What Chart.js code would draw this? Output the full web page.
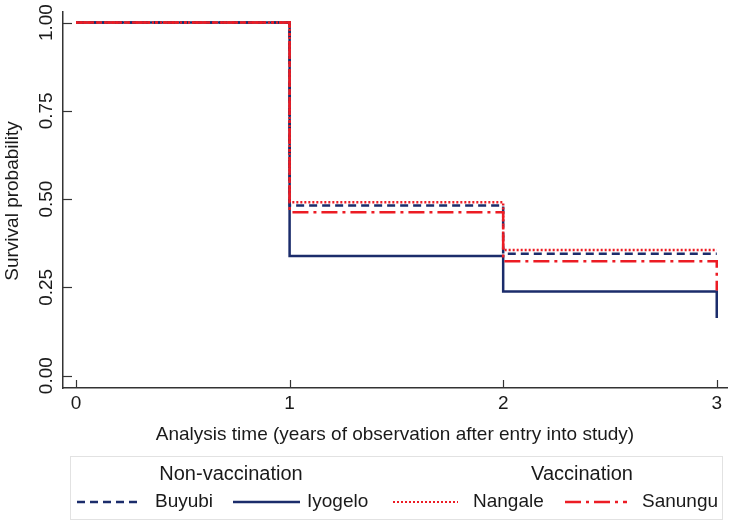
<!DOCTYPE html>
<html>
<head>
<meta charset="utf-8">
<script src="https://cdn.jsdelivr.net/npm/chart.js@4.4.1/dist/chart.umd.min.js"></script>
<style>
  html, body { margin: 0; padding: 0; background: #fff; }
  canvas { display: block; }
</style>
</head>
<body>
<canvas id="kmChart" width="733" height="524"></canvas>
<script>
// Kaplan-Meier survival estimates
const times = [0, 1, 2, 3];
const buyubi = [1, 0.482, 0.345, 0.345];
const iyogelo = [1, 0.339, 0.238, 0.163];
const nangale = [1, 0.491, 0.356, 0.356];
const sanungu = [1, 0.463, 0.324, 0.241];

const seriesNames = ["Buyubi", "Iyogelo", "Nangale", "Sanungu"];
const groupNames = ["Non-vaccination", "Vaccination"];
const xTicks = [0, 1, 2, 3];
const yTicks = [0, 0.25, 0.5, 0.75, 1];
const xTitle = "Analysis time (years of observation after entry into study)";
const yTitle = "Survival probability";

const NAVY = '#1b2c6b';
const RED = '#ec1c24';
const TEXT = '#1a1a1a';
const FONT = '"Liberation Sans", Arial, sans-serif';

const styles = [
    { color: NAVY, dash: [8, 5], width: 2.5 },
    { color: NAVY, dash: [], width: 2.5 },
    { color: RED, dash: [2, 2], width: 2.5 },
    { color: RED, dash: [16, 5, 3, 5], width: 2.5 }
];

function toPoints(values) {
    return times.map((t, i) => ({ x: t, y: values[i] }));
}

const allSeries = [buyubi, iyogelo, nangale, sanungu];
const datasets = allSeries.map((vals, i) => ({
    label: seriesNames[i],
    data: toPoints(vals),
    stepped: 'before',   // horizontal run, then drop at the next time
    borderColor: styles[i].color,
    borderDash: styles[i].dash,
    borderWidth: styles[i].width,
    borderCapStyle: 'butt',
    borderJoinStyle: 'miter',
    pointRadius: 0,
    fill: false,
    order: allSeries.length - 1 - i   // later series drawn on top
}));

// y tick labels (rotated), y title, inward ticks, grouped legend
const decorations = {
    id: 'decorations',
    afterDraw(chart) {
        const ctx = chart.ctx;
        const xs = chart.scales.x;
        const ys = chart.scales.y;
        const area = chart.chartArea;

        ctx.save();
        // inward tick marks
        ctx.strokeStyle = '#333';
        ctx.lineWidth = 1.2;
        ctx.setLineDash([]);
        yTicks.forEach(v => {
            const py = Math.round(ys.getPixelForValue(v)) + 0.5;
            ctx.beginPath();
            ctx.moveTo(area.left, py);
            ctx.lineTo(area.left + 9, py);
            ctx.stroke();
        });
        xTicks.forEach(v => {
            const px = Math.round(xs.getPixelForValue(v)) + 0.5;
            ctx.beginPath();
            ctx.moveTo(px, area.bottom);
            ctx.lineTo(px, area.bottom - 8);
            ctx.stroke();
        });

        // rotated y tick labels
        ctx.fillStyle = TEXT;
        ctx.font = '19px ' + FONT;
        ctx.textAlign = 'center';
        ctx.textBaseline = 'middle';
        yTicks.forEach(v => {
            const py = ys.getPixelForValue(v);
            ctx.save();
            ctx.translate(47, py);
            ctx.rotate(-Math.PI / 2);
            ctx.fillText(v.toFixed(2), 0, 0);
            ctx.restore();
        });

        // y axis title
        ctx.save();
        ctx.translate(13, (area.top + area.bottom) / 2 + 1);
        ctx.rotate(-Math.PI / 2);
        ctx.fillText(yTitle, 0, 0);
        ctx.restore();

        // legend box
        ctx.strokeStyle = '#e2e2e2';
        ctx.lineWidth = 1;
        ctx.strokeRect(70.5, 456.5, 652, 63);

        ctx.font = '20px ' + FONT;
        ctx.textAlign = 'center';
        ctx.fillText(groupNames[0], 231, 474);
        ctx.fillText(groupNames[1], 582, 474);

        const samples = [[77, 138, 155], [233, 300, 307], [393, 458, 473], [565, 627, 642]];
        const rowY = 502;
        ctx.font = '19px ' + FONT;
        ctx.textAlign = 'left';
        samples.forEach((s, i) => {
            ctx.strokeStyle = styles[i].color;
            ctx.lineWidth = i === 2 ? 2 : styles[i].width;
            ctx.setLineDash(styles[i].dash);
            ctx.beginPath();
            ctx.moveTo(s[0], rowY);
            ctx.lineTo(s[1], rowY);
            ctx.stroke();
            ctx.fillText(seriesNames[i], s[2], rowY);
        });
        ctx.restore();
    }
};

new Chart(document.getElementById('kmChart'), {
    type: 'line',
    data: { datasets: datasets },
    options: {
        responsive: false,
        animation: false,
        devicePixelRatio: 1,
        layout: { padding: { left: 0, top: 12, right: 6, bottom: 76 } },
        plugins: {
            legend: { display: false },
            tooltip: { enabled: false }
        },
        scales: {
            x: {
                type: 'linear',
                min: -0.061,
                max: 3.048,
                afterBuildTicks: (scale) => { scale.ticks = xTicks.map(v => ({ value: v })); },
                afterFit: (scale) => { scale.height = 60; },
                grid: { display: false, drawTicks: false },
                border: { display: true, color: '#333', width: 1.5 },
                ticks: {
                    padding: 4,
                    color: TEXT,
                    font: { family: FONT, size: 19 },
                    callback: (v) => String(v)
                },
                title: {
                    display: true,
                    text: xTitle,
                    color: TEXT,
                    font: { family: FONT, size: 19 },
                    padding: { top: 0, bottom: 2 }
                }
            },
            y: {
                type: 'linear',
                min: -0.035,
                max: 1.03,
                afterBuildTicks: (scale) => { scale.ticks = yTicks.map(v => ({ value: v })); },
                afterFit: (scale) => { scale.width = 63; },
                grid: { display: false, drawTicks: false },
                border: { display: true, color: '#333', width: 1.5 },
                ticks: { display: false }
            }
        }
    },
    plugins: [decorations]
});
</script>
</body>
</html>
